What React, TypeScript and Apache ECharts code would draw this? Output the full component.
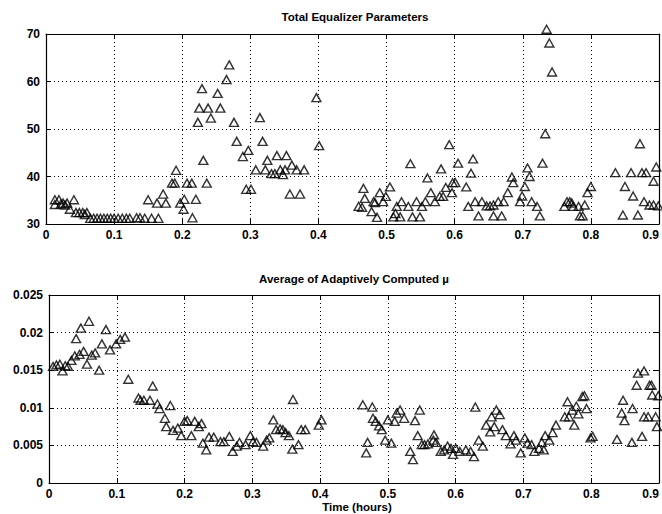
import React, { useEffect, useRef } from "react";
import * as echarts from "echarts";

// Time axis ticks (hours)
const timeMin = 0;
const timeMax = 0.9;
const timeStep = 0.1;

// Top panel: total equalizer parameters [time, count]
const eqParams: number[][] = [
  [0.013, 35.1], [0.019, 35.1], [0.013, 34.1], [0.022, 34.2], [0.025, 34.4], [0.031, 34.4], [0.028, 34.0],
  [0.041, 35.1], [0.035, 33.1], [0.044, 32.4], [0.049, 32.4], [0.054, 32.4], [0.060, 32.4], [0.057, 32.0],
  [0.065, 31.2], [0.070, 31.2], [0.075, 31.2], [0.080, 31.2], [0.085, 31.2], [0.090, 31.2], [0.095, 31.2],
  [0.100, 31.2], [0.106, 31.2], [0.112, 31.2], [0.118, 31.2], [0.123, 31.2], [0.133, 31.3], [0.138, 31.3],
  [0.145, 31.2], [0.155, 31.2], [0.165, 31.2],
  [0.150, 35.1], [0.163, 34.4], [0.172, 36.3], [0.176, 34.4], [0.185, 38.6], [0.189, 38.6], [0.191, 41.3],
  [0.197, 34.4], [0.203, 35.2], [0.202, 33.1], [0.207, 38.6], [0.214, 38.6], [0.215, 31.3], [0.220, 35.2],
  [0.231, 43.4], [0.236, 38.6],
  [0.269, 63.5], [0.265, 60.4], [0.229, 58.5], [0.252, 57.5], [0.225, 54.4], [0.238, 54.4], [0.256, 54.4],
  [0.242, 52.3], [0.223, 51.4], [0.276, 51.4], [0.314, 52.4], [0.397, 56.6], [0.401, 46.5], [0.280, 47.4],
  [0.318, 47.4], [0.297, 45.5], [0.289, 44.2], [0.325, 43.4], [0.339, 44.4], [0.353, 44.4], [0.308, 41.4],
  [0.322, 41.4], [0.331, 40.6], [0.336, 40.6], [0.344, 41.4], [0.351, 41.4], [0.361, 42.4], [0.368, 41.4],
  [0.379, 41.4], [0.348, 40.4], [0.294, 37.3], [0.301, 37.3], [0.358, 36.3], [0.373, 36.3],
  [0.459, 33.7], [0.464, 33.5], [0.466, 37.5], [0.468, 35.4], [0.478, 32.6], [0.481, 34.7], [0.483, 34.5],
  [0.486, 31.4], [0.490, 36.6], [0.495, 34.7], [0.499, 35.8], [0.505, 37.8], [0.510, 31.5], [0.513, 32.2],
  [0.515, 33.7], [0.520, 31.5], [0.522, 34.7], [0.532, 33.7], [0.535, 42.7], [0.538, 31.5], [0.544, 34.7],
  [0.549, 31.5], [0.552, 33.7], [0.557, 34.7], [0.560, 39.7], [0.565, 36.6], [0.571, 34.7], [0.578, 35.8],
  [0.580, 41.6], [0.583, 35.8], [0.587, 37.7], [0.592, 46.7], [0.596, 36.6], [0.597, 38.7], [0.601, 38.7],
  [0.605, 42.8], [0.617, 37.8], [0.620, 33.7], [0.624, 40.7], [0.627, 43.7], [0.630, 34.7], [0.635, 31.7],
  [0.640, 34.7], [0.647, 33.8], [0.652, 33.8], [0.657, 34.0], [0.657, 31.7], [0.664, 34.7], [0.669, 31.7],
  [0.672, 34.7], [0.678, 36.6], [0.684, 39.9], [0.686, 38.7], [0.696, 34.7], [0.699, 35.9], [0.703, 37.9],
  [0.707, 41.8], [0.710, 40.0], [0.713, 34.7], [0.721, 33.7], [0.725, 31.7], [0.729, 42.8], [0.733, 49.0],
  [0.735, 71.0], [0.739, 68.1], [0.743, 62.0],
  [0.761, 33.7], [0.765, 34.7], [0.769, 34.7], [0.772, 34.4], [0.774, 33.7], [0.782, 33.7], [0.784, 31.7],
  [0.788, 31.7], [0.791, 34.0], [0.795, 36.6], [0.800, 37.9], [0.836, 40.8], [0.847, 31.9], [0.850, 37.9],
  [0.859, 40.8], [0.862, 35.9], [0.869, 31.9], [0.872, 46.9], [0.875, 40.8], [0.878, 34.7], [0.881, 40.8],
  [0.886, 34.0], [0.892, 34.0], [0.892, 39.0], [0.896, 42.0], [0.899, 33.8],
];

// Bottom panel: average of adaptively computed mu [time, mu]
const muAvg: number[][] = [
  [0.006, 0.0155], [0.011, 0.0157], [0.016, 0.0158], [0.020, 0.0149], [0.024, 0.0156], [0.028, 0.0155],
  [0.033, 0.0163], [0.038, 0.0169], [0.040, 0.0192], [0.045, 0.0171], [0.047, 0.0206], [0.051, 0.0175],
  [0.056, 0.0158], [0.059, 0.0215], [0.063, 0.0170], [0.068, 0.0173], [0.074, 0.0150], [0.078, 0.0185],
  [0.084, 0.0204], [0.090, 0.0177], [0.099, 0.0185], [0.105, 0.0191], [0.112, 0.0194], [0.117, 0.0138],
  [0.132, 0.0113], [0.135, 0.0110], [0.140, 0.0110], [0.149, 0.0110], [0.153, 0.0129], [0.160, 0.0105],
  [0.163, 0.0099], [0.171, 0.0086], [0.173, 0.0075], [0.179, 0.0103], [0.183, 0.0070], [0.190, 0.0073],
  [0.195, 0.0063], [0.200, 0.0082], [0.204, 0.0083], [0.210, 0.0063], [0.215, 0.0082], [0.221, 0.0075],
  [0.225, 0.0079], [0.227, 0.0053], [0.232, 0.0044], [0.236, 0.0061], [0.243, 0.0061], [0.253, 0.0055],
  [0.258, 0.0055], [0.266, 0.0062], [0.271, 0.0042], [0.277, 0.0049], [0.281, 0.0054], [0.290, 0.0051],
  [0.297, 0.0063], [0.301, 0.0055], [0.306, 0.0054], [0.316, 0.0049], [0.321, 0.0057], [0.325, 0.0060],
  [0.331, 0.0084], [0.335, 0.0071], [0.341, 0.0072], [0.345, 0.0071], [0.349, 0.0067], [0.354, 0.0063],
  [0.359, 0.0045], [0.360, 0.0111], [0.368, 0.0051], [0.372, 0.0071], [0.378, 0.0071], [0.398, 0.0077],
  [0.402, 0.0084],
  [0.463, 0.0104], [0.468, 0.0040], [0.470, 0.0054], [0.477, 0.0101], [0.478, 0.0086], [0.482, 0.0082],
  [0.487, 0.0076], [0.491, 0.0071], [0.496, 0.0057], [0.500, 0.0084], [0.505, 0.0053], [0.510, 0.0082],
  [0.513, 0.0093], [0.518, 0.0097], [0.524, 0.0086], [0.533, 0.0042], [0.537, 0.0031], [0.540, 0.0083],
  [0.544, 0.0063], [0.547, 0.0097], [0.550, 0.0051], [0.554, 0.0051], [0.559, 0.0052], [0.567, 0.0057],
  [0.568, 0.0064], [0.571, 0.0054], [0.578, 0.0042], [0.583, 0.0044], [0.588, 0.0049], [0.593, 0.0046],
  [0.596, 0.0038], [0.600, 0.0046], [0.606, 0.0042], [0.615, 0.0044], [0.622, 0.0042], [0.627, 0.0035],
  [0.629, 0.0101], [0.634, 0.0057], [0.640, 0.0049], [0.645, 0.0077], [0.651, 0.0068], [0.653, 0.0088],
  [0.657, 0.0075], [0.660, 0.0097], [0.665, 0.0091], [0.669, 0.0071], [0.674, 0.0063], [0.681, 0.0052],
  [0.686, 0.0063], [0.689, 0.0057], [0.696, 0.0040], [0.702, 0.0060], [0.706, 0.0053], [0.712, 0.0051],
  [0.716, 0.0042], [0.723, 0.0046], [0.727, 0.0054], [0.730, 0.0044], [0.732, 0.0063], [0.738, 0.0057],
  [0.743, 0.0067], [0.748, 0.0077], [0.761, 0.0088], [0.765, 0.0108], [0.767, 0.0088], [0.772, 0.0097],
  [0.775, 0.0077], [0.778, 0.0102], [0.781, 0.0092], [0.787, 0.0115], [0.790, 0.0116], [0.793, 0.0099],
  [0.799, 0.0060], [0.802, 0.0062], [0.838, 0.0058], [0.845, 0.0093], [0.847, 0.0110], [0.849, 0.0083],
  [0.860, 0.0054], [0.861, 0.0099], [0.867, 0.0130], [0.869, 0.0146], [0.875, 0.0062], [0.878, 0.0149],
  [0.878, 0.0088], [0.884, 0.0088], [0.886, 0.0130], [0.889, 0.0130], [0.890, 0.0117], [0.895, 0.0088],
  [0.897, 0.0075], [0.899, 0.0116],
];

const topTitle = "Total Equalizer Parameters";
const bottomTitle = "Average of Adaptively Computed \u00b5";
const xTitle = "Time (hours)";

const FONT = "'Liberation Sans', Arial, Helvetica, sans-serif";

export default function App() {
  const ref = useRef<HTMLDivElement>(null);
  useEffect(() => {
    if (!ref.current) return;
    const chart = echarts.init(ref.current, undefined, { renderer: "svg" });
    const black = "#000";
    const labelStyle = { color: black, fontFamily: FONT, fontSize: 12, fontWeight: "bold" as const };
    const dotted = { show: true, lineStyle: { color: black, type: [1, 3] as any, width: 1 } };
    const line = { show: true, onZero: false, lineStyle: { color: black, width: 1.2 } };
    const tick = { show: true, inside: true, length: 5, lineStyle: { color: black, width: 1 } };
    const fmtX = (v: number) => String(+v.toFixed(1));
    const fmtY2 = (v: number) => String(+v.toFixed(3));

    const xMain = (gridIndex: number) => ({
      type: "value", gridIndex, min: timeMin, max: timeMax, interval: timeStep, position: "bottom",
      axisLine: line, axisTick: tick, splitLine: dotted,
      axisLabel: {
        ...labelStyle, margin: 5, formatter: fmtX, showMaxLabel: true, hideOverlap: false,
        alignMaxLabel: "right",
      },
    });
    const xTop = (gridIndex: number) => ({
      type: "value", gridIndex, min: timeMin, max: timeMax, interval: timeStep, position: "top",
      axisLine: line, axisTick: tick, splitLine: { show: false }, axisLabel: { show: false },
    });
    const markerStyle = { color: "rgba(0,0,0,0)", borderColor: black, borderWidth: 1.4 };
    const titleFont = `bold 11.5px ${FONT}`;

    chart.setOption({
      animation: false,
      backgroundColor: "#fff",
      grid: [
        { left: 46, top: 34, width: 613, height: 190, outerBoundsMode: "none", containLabel: false },
        { left: 49, top: 295, width: 610, height: 188, outerBoundsMode: "none", containLabel: false },
      ],
      xAxis: [xMain(0), xTop(0), xMain(1), xTop(1)],
      yAxis: [
        {
          type: "value", gridIndex: 0, min: 30, max: 70, interval: 10, position: "left",
          axisLine: line, axisTick: tick, splitLine: dotted,
          axisLabel: { ...labelStyle, margin: 6 },
        },
        {
          type: "value", gridIndex: 0, min: 30, max: 70, interval: 10, position: "right",
          axisLine: line, axisTick: tick, splitLine: { show: false }, axisLabel: { show: false },
        },
        {
          type: "value", gridIndex: 1, min: 0, max: 0.025, interval: 0.005, position: "left",
          axisLine: line, axisTick: tick, splitLine: dotted,
          axisLabel: { ...labelStyle, margin: 6, formatter: fmtY2 },
        },
        {
          type: "value", gridIndex: 1, min: 0, max: 0.025, interval: 0.005, position: "right",
          axisLine: line, axisTick: tick, splitLine: { show: false }, axisLabel: { show: false },
        },
      ],
      graphic: [
        { type: "text", x: 355, y: 17, style: { text: topTitle, fill: black, font: titleFont, textAlign: "center", textVerticalAlign: "middle" } },
        { type: "text", x: 354, y: 279, style: { text: bottomTitle, fill: black, font: titleFont, textAlign: "center", textVerticalAlign: "middle" } },
        { type: "text", x: 357, y: 507, style: { text: xTitle, fill: black, font: titleFont, textAlign: "center", textVerticalAlign: "middle" } },
      ],
      series: [
        {
          type: "scatter", xAxisIndex: 0, yAxisIndex: 0, data: eqParams, clip: false,
          symbol: "triangle", symbolSize: [9, 8], itemStyle: markerStyle,
        },
        {
          type: "scatter", xAxisIndex: 2, yAxisIndex: 2, data: muAvg, clip: false,
          symbol: "triangle", symbolSize: [9, 8], itemStyle: markerStyle,
        },
      ],
    });
    return () => chart.dispose();
  }, []);
  return (
    <div
      ref={ref}
      style={{ position: "absolute", left: 0, top: 0, width: 662, height: 514, overflow: "hidden" }}
    />
  );
}
